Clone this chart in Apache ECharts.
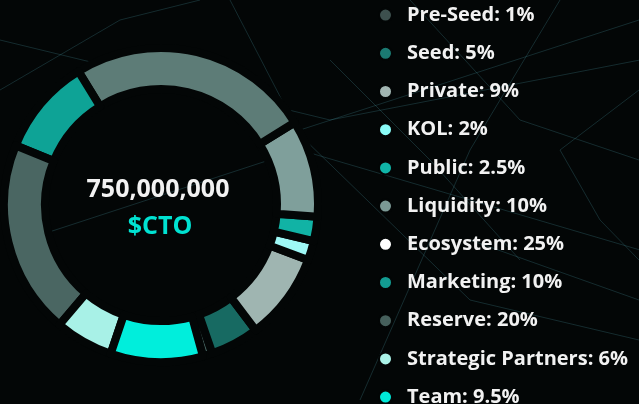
<!DOCTYPE html>
<html>
<head>
<meta charset="utf-8">
<script src="https://cdn.jsdelivr.net/npm/echarts@6/dist/echarts.min.js"></script>
<style>
  html, body { margin: 0; padding: 0; background: #030606; }
  #main { width: 639px; height: 404px; }
</style>
</head>
<body>
<div id="main"></div>
<script>
// token allocation, in percent
const names = ['Pre-Seed', 'Seed', 'Private', 'KOL', 'Public', 'Liquidity',
  'Ecosystem', 'Marketing', 'Reserve', 'Strategic Partners', 'Team'];
const shares = [1, 5, 9, 2, 2.5, 10, 25, 10, 20, 6, 9.5];
// ring colours and legend dot colours (they differ for a few items)
const ringColors = ['#3f5956', '#176a62', '#9fb5b1', '#9ef8f6', '#11b3a5', '#7f9f9b',
  '#5d7c77', '#0ea396', '#4a6662', '#a8f1e7', '#00eedc'];
const dotColors = ['#3d504e', '#1b7a72', '#a2b6b2', '#8afcf8', '#10b5a8', '#7b9995',
  '#ffffff', '#139c92', '#46605c', '#aaf2e8', '#00e8d8'];
const totalSupply = '750,000,000';
const ticker = '$CTO';

const shareOf = {};
names.forEach((n, i) => { shareOf[n] = shares[i]; });

/* 背景的细网格线，只是装饰 */
const net = [
  [[0, 40], [330, 120], [640, 60]],
  [[40, 235], [300, 150], [640, 250]],
  [[230, 0], [300, 135], [470, 300], [639, 340]],
  [[560, 0], [470, 150], [360, 400]],
  [[410, 0], [520, 120], [639, 160]],
  [[639, 90], [560, 150], [600, 220], [639, 260]],
  [[300, 130], [639, 20]],
  [[330, 60], [430, 160], [520, 260]],
  [[0, 90], [120, 20], [200, 0]],
  [[470, 240], [639, 300]]
];
const netGraphics = net.map(pts => ({
  type: 'polyline', silent: true, z: -10,
  shape: { points: pts },
  style: { stroke: 'rgba(70,140,150,0.28)', lineWidth: 1, fill: null }
}));

const chart = echarts.init(document.getElementById('main'));
chart.setOption({
  backgroundColor: '#030606',
  animation: false,
  legend: {
    orient: 'vertical',
    left: 378,
    top: 4,
    height: 600,
    padding: 0,
    itemWidth: 13,
    itemHeight: 13,
    itemGap: 16,
    icon: 'circle',
    selectedMode: false,
    data: names.map((n, i) => ({ name: n, itemStyle: { color: dotColors[i] } })),
    formatter: n => n + ': ' + shareOf[n] + '%',
    textStyle: {
      color: '#f2f2f2',
      fontFamily: 'Open Sans',
      fontWeight: 'bold',
      fontSize: 20,
      lineHeight: 22.2,
      padding: [0, 0, 0, 10]
    }
  },
  graphic: netGraphics.concat([
    {
      type: 'text', x: 158, y: 190, silent: true,
      style: {
        text: totalSupply, fill: '#f2f2f2', font: 'bold 25px "Open Sans"',
        textAlign: 'center', textVerticalAlign: 'middle'
      }
    },
    {
      type: 'text', x: 160, y: 227, silent: true,
      style: {
        text: ticker, fill: '#00e2d2', font: 'bold 25px "Open Sans"',
        textAlign: 'center', textVerticalAlign: 'middle'
      }
    }
  ]),
  series: [{
    type: 'pie',
    center: [161, 205],
    radius: [116, 157],
    startAngle: 285.5,
    clockwise: false,
    silent: true,
    label: { show: false },
    labelLine: { show: false },
    itemStyle: { borderColor: '#030606', borderWidth: 8 },
    data: names.map((n, i) => ({ name: n, value: shares[i], itemStyle: { color: ringColors[i] } }))
  }]
});
</script>
</body>
</html>
